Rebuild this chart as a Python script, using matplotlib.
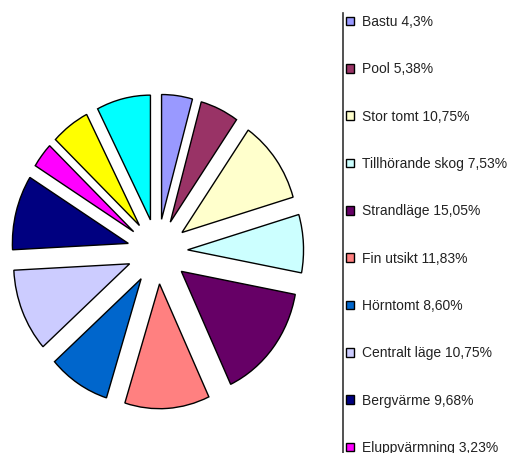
import matplotlib
matplotlib.use("Agg")
import matplotlib.pyplot as plt
from matplotlib.lines import Line2D

plt.rcParams['font.family'] = ['Liberation Sans', 'DejaVu Sans']

# andelar i procent, medurs från kl 12
kategorier = ['Bastu', 'Pool', 'Stor tomt', 'Tillhörande skog', 'Strandläge',
              'Fin utsikt', 'Hörntomt', 'Centralt läge', 'Bergvärme',
              'Eluppvärmning', 'Garage', 'Brygga']
andelar = [4.30, 5.38, 10.75, 7.53, 15.05, 11.83, 8.60, 10.75, 9.68, 3.23, 5.38, 7.53]
etiketter = ['Bastu 4,3%', 'Pool 5,38%', 'Stor tomt 10,75%', 'Tillhörande skog 7,53%',
             'Strandläge 15,05%', 'Fin utsikt 11,83%', 'Hörntomt 8,60%',
             'Centralt läge 10,75%', 'Bergvärme 9,68%', 'Eluppvärmning 3,23%',
             'Garage 5,38%', 'Brygga 7,53%']
farger = ['#9999FF', '#993366', '#FFFFCC', '#CCFFFF', '#660066', '#FF8080',
          '#0066CC', '#CCCCFF', '#000080', '#FF00FF', '#FFFF00', '#00FFFF']

W, H = 517, 453
fig = plt.figure(figsize=(W / 100, H / 100), dpi=100)
fig.patch.set_facecolor('white')

# pajen är lite utsträckt på höjden i originalet
ax = fig.add_axes([1 / W, 33 / H, 313 / W, 337 / H])
wedges, _ = ax.pie(andelar, colors=farger, startangle=90, counterclock=False,
                   explode=[0.26] * len(andelar),
                   wedgeprops=dict(edgecolor='black', linewidth=1.0))
ax.set_aspect('auto')
ax.set_xlim(-1.35, 1.35)
ax.set_ylim(-1.35, 1.35)
ax.axis('off')

# förklaring till höger, beskuren upptill och nedtill som i originalet
fig.legend(wedges, etiketter, loc='upper left',
           bbox_to_anchor=(346 / W, 1 - 15 / H), frameon=False,
           fontsize=10, borderpad=0, borderaxespad=0,
           handlelength=0.58, handleheight=0.58, handletextpad=0.6,
           labelspacing=2.40, labelcolor='#222222')

fig.add_artist(Line2D([343 / W, 343 / W], [0, 1 - 13 / H],
                      transform=fig.transFigure, color='#333333', linewidth=1.2))

fig.savefig('out.png', dpi=100)
